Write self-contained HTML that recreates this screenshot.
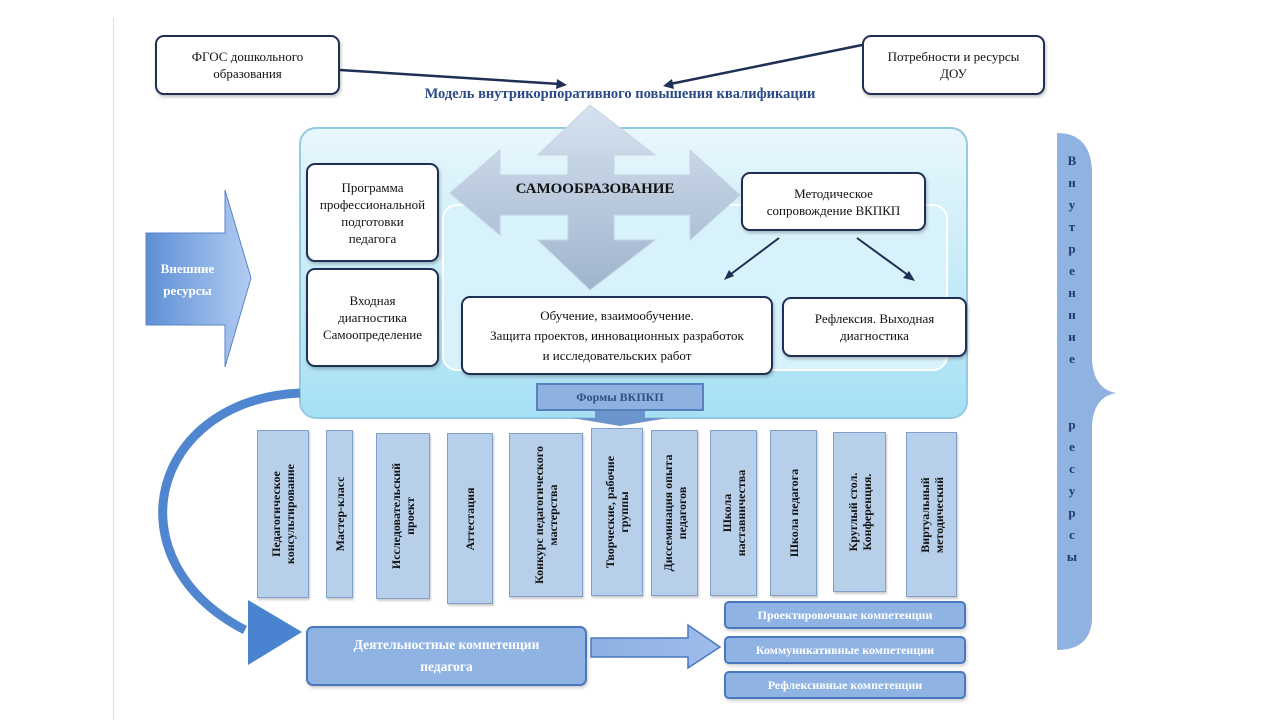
<!DOCTYPE html>
<html><head><meta charset="utf-8">
<style>
body{margin:0;width:1280px;height:720px;background:#fff;position:relative;overflow:hidden;font-family:"Liberation Serif",serif;}
.a{position:absolute;box-sizing:border-box;}
.wb{background:#fff;border:2px solid #1f2f55;border-radius:9px;display:flex;align-items:center;justify-content:center;text-align:center;font-size:13px;line-height:17px;color:#111;box-shadow:1px 2px 3px rgba(0,0,0,.25);}
.v{background:#b7cfe8;border:1px solid #7fa0c8;box-shadow:1px 2px 2px rgba(0,0,0,.2);}
.v span{position:absolute;left:50%;top:50%;transform:translate(-50%,-50%) rotate(-90deg);white-space:nowrap;font-weight:bold;font-size:12px;line-height:14px;text-align:center;color:#111;}
.c{background:#8fb3e3;border:2px solid #4a78c0;border-radius:5px;color:#fff;font-weight:bold;font-size:12px;display:flex;align-items:center;justify-content:center;box-shadow:1px 2px 3px rgba(0,0,0,.2);}
</style></head><body>
<div class="a" style="left:113px;top:18px;width:1px;height:702px;background:#ddd"></div>
<svg class="a" style="left:0;top:0" width="1280" height="720">
<defs>
<linearGradient id="g1" x1="0" y1="0" x2="0" y2="1"><stop offset="0" stop-color="#e8f7fc"/><stop offset="1" stop-color="#a6e0f4"/></linearGradient>
<linearGradient id="g2" x1="0" y1="0" x2="0" y2="1"><stop offset="0" stop-color="#d6e2ef"/><stop offset="1" stop-color="#9fb4cd"/></linearGradient>
<linearGradient id="g3" x1="0" y1="0" x2="1" y2="0"><stop offset="0" stop-color="#5d8fd6"/><stop offset="1" stop-color="#b3cdf1"/></linearGradient>
<linearGradient id="g4" x1="0" y1="0" x2="1" y2="0"><stop offset="0" stop-color="#8db0e3"/><stop offset="1" stop-color="#9fbdea"/></linearGradient>
</defs>
<line x1="340" y1="70" x2="560" y2="84" stroke="#1f2f55" stroke-width="2.5"/>
<polygon points="567,85 557,79 556,89" fill="#1f2f55"/>
<line x1="862" y1="45" x2="670" y2="84" stroke="#1f2f55" stroke-width="2.5"/>
<polygon points="663,86 672,79 674,89" fill="#1f2f55"/>
<rect x="300" y="128" width="667" height="290" rx="16" fill="url(#g1)" stroke="#94cbe0" stroke-width="2"/>
<rect x="443" y="205" width="504" height="165" rx="14" fill="#d8f2fb" stroke="#fff" stroke-width="2"/>
<polygon points="590,105 655,155 614,155 614,175 690,175 690,150 740,195 690,240 690,215 614,215 614,240 655,240 590,290 538,240 568,240 568,215 500,215 500,235 450,193 500,150 500,175 568,175 568,155 538,155" fill="url(#g2)" stroke="#c5d2e2"/>
<line x1="779" y1="238" x2="727" y2="277" stroke="#1f2f55" stroke-width="2"/>
<polygon points="724,280 729,270 734,276" fill="#1f2f55"/>
<line x1="857" y1="238" x2="912" y2="278" stroke="#1f2f55" stroke-width="2"/>
<polygon points="915,281 903,278 909,271" fill="#1f2f55"/>
<polygon points="146,233 225,233 225,190 251,278 225,367 225,325 146,325" fill="url(#g3)" stroke="#5a86c8"/>
<polygon points="595,411 595,418 572,418 620,426 668,418 645,418 645,411" fill="#6b93cc"/>
<path d="M300,393 C150,400 110,560 245,630" fill="none" stroke="#4f86cf" stroke-width="9"/>
<polygon points="248,600 302,632 248,665" fill="#4a84d0"/>
<polygon points="591,638 688,638 688,625 720,647 688,668 688,657 591,657" fill="url(#g4)" stroke="#4a78c0" stroke-width="1.5"/>
<path d="M1057,133 Q1090,133 1092,170 L1092,360 Q1094,390 1117,393 Q1094,396 1092,425 L1092,620 Q1090,650 1057,650 Z" fill="#90b2e0"/>
</svg>
<div class="a wb" style="left:155px;top:35px;width:185px;height:60px">ФГОС дошкольного<br>образования</div>
<div class="a wb" style="left:862px;top:35px;width:183px;height:60px">Потребности и ресурсы<br>ДОУ</div>
<div class="a" style="left:380px;top:86px;width:480px;text-align:center;font-weight:bold;font-size:14.5px;color:#2b4a86">Модель внутрикорпоративного повышения квалификации</div>
<div class="a" style="left:490px;top:181px;width:210px;text-align:center;font-weight:bold;font-size:15px;color:#111">САМООБРАЗОВАНИЕ</div>
<div class="a wb" style="left:306px;top:163px;width:133px;height:99px">Программа<br>профессиональной<br>подготовки<br>педагога</div>
<div class="a wb" style="left:306px;top:268px;width:133px;height:99px">Входная<br>диагностика<br>Самоопределение</div>
<div class="a wb" style="left:741px;top:172px;width:185px;height:59px">Методическое<br>сопровождение ВКПКП</div>
<div class="a wb" style="left:461px;top:296px;width:312px;height:79px;line-height:20px">Обучение, взаимообучение.<br>Защита проектов, инновационных разработок<br>и исследовательских работ</div>
<div class="a wb" style="left:782px;top:297px;width:185px;height:60px">Рефлексия. Выходная<br>диагностика</div>
<div class="a" style="left:536px;top:383px;width:168px;height:28px;background:#8fb1df;border:2px solid #5581bd;color:#2d4f86;font-weight:bold;font-size:12px;display:flex;align-items:center;justify-content:center">Формы ВКПКП</div>
<div class="a" style="left:150px;top:258px;width:75px;color:#fff;font-weight:bold;font-size:13px;line-height:22px;text-align:center">Внешние ресурсы</div>
<div class="a v" style="left:257px;top:430px;width:52px;height:168px"><span>Педагогическое<br>консультирование</span></div>
<div class="a v" style="left:326px;top:430px;width:27px;height:168px"><span>Мастер-класс</span></div>
<div class="a v" style="left:376px;top:433px;width:54px;height:166px"><span>Исследовательский<br>проект</span></div>
<div class="a v" style="left:447px;top:433px;width:46px;height:171px"><span>Аттестация</span></div>
<div class="a v" style="left:509px;top:433px;width:74px;height:164px"><span>Конкурс педагогического<br>мастерства</span></div>
<div class="a v" style="left:591px;top:428px;width:52px;height:168px"><span>Творческие, рабочие<br>группы</span></div>
<div class="a v" style="left:651px;top:430px;width:47px;height:166px"><span>Диссеминация опыта<br>педагогов</span></div>
<div class="a v" style="left:710px;top:430px;width:47px;height:166px"><span>Школа<br>наставничества</span></div>
<div class="a v" style="left:770px;top:430px;width:47px;height:166px"><span>Школа педагога</span></div>
<div class="a v" style="left:833px;top:432px;width:53px;height:160px"><span>Круглый стол.<br>Конференция.</span></div>
<div class="a v" style="left:906px;top:432px;width:51px;height:165px"><span>Виртуальный<br>методический</span></div>
<div class="a c" style="left:306px;top:626px;width:281px;height:60px;font-size:13.5px;line-height:22px;text-align:center;border-radius:7px">Деятельностные компетенции<br>педагога</div>
<div class="a c" style="left:724px;top:601px;width:242px;height:28px">Проектировочные компетенции</div>
<div class="a c" style="left:724px;top:636px;width:242px;height:28px">Коммуникативные компетенции</div>
<div class="a c" style="left:724px;top:671px;width:242px;height:28px">Рефлексивные компетенции</div>
<div class="a" style="left:1060px;top:150px;width:24px;text-align:center;font-weight:bold;font-size:13px;line-height:22px;color:#1f3a70">В<br>н<br>у<br>т<br>р<br>е<br>н<br>н<br>и<br>е<br><br><br>р<br>е<br>с<br>у<br>р<br>с<br>ы</div>
</body></html>
